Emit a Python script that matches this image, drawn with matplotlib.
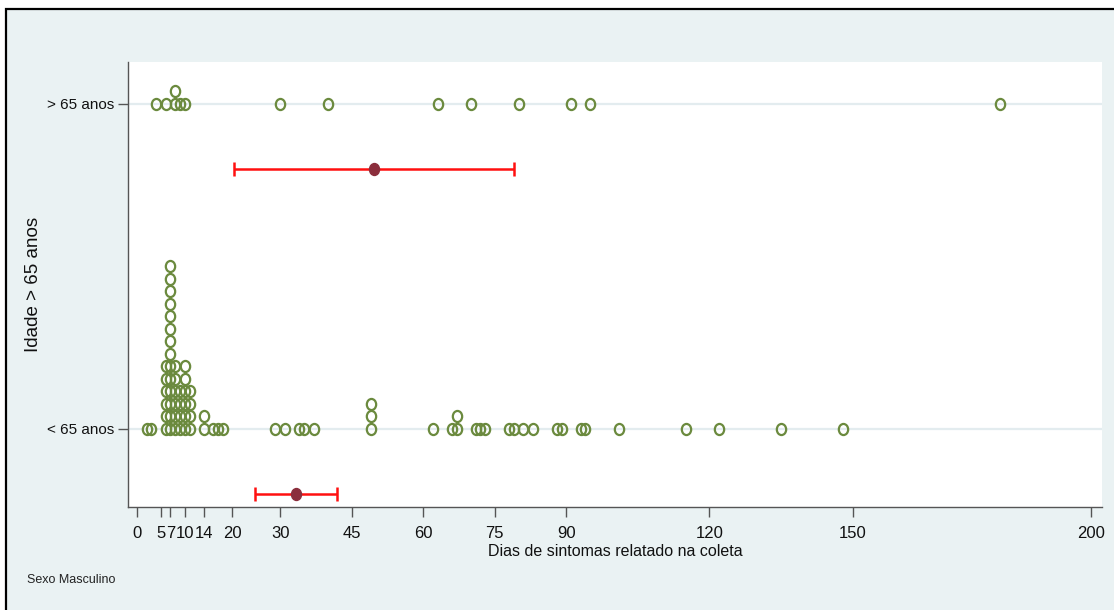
import numpy as np
import matplotlib
matplotlib.use("Agg")
import matplotlib.pyplot as plt
from matplotlib.path import Path
from matplotlib.transforms import Affine2D
from matplotlib.patches import Rectangle
from collections import Counter

# Reported symptom days at sample collection, male patients, by age group
group_labels = ["< 65 anos", "> 65 anos"]
dias_menor65 = [2, 3,
                6, 6, 6, 6, 6, 6,
                7, 7, 7, 7, 7, 7, 7, 7, 7, 7, 7, 7, 7, 7,
                8, 8, 8, 8, 8, 8,
                9, 9, 9, 9,
                10, 10, 10, 10, 10, 10,
                11, 11, 11, 11,
                14, 14, 16, 17, 18,
                29, 31, 34, 35, 37,
                49, 49, 49,
                62, 66, 67, 67, 71, 72, 73,
                78, 79, 81, 83, 88, 89, 93, 94,
                101, 115, 122, 135, 148]
dias_maior65 = [4, 6, 8, 8, 9, 10, 30, 40, 63, 70, 80, 91, 95, 181]

# Student t critical values (95%) for n-1 degrees of freedom
t_crit = {74: 1.993, 13: 2.160}

x_ticks = [0, 5, 7, 10, 14, 20, 30, 45, 60, 75, 90, 120, 150, 200]

FONT = ["Liberation Sans Narrow", "Liberation Sans", "DejaVu Sans"]
BG = "#eaf2f3"
GREEN = "#6b8a3e"
MEAN_COLOR = "#8b2e3c"
TXT = "#111111"

W, H = 1114, 610
fig = plt.figure(figsize=(W / 100, H / 100), dpi=100, facecolor="white")

# outer framed panel
fig.patches.append(Rectangle((5.5 / W, -0.1), 1.2, (H - 8.5) / H + 0.1,
                             transform=fig.transFigure, facecolor=BG,
                             edgecolor="black", linewidth=1.6, zorder=-10))

left, right, top, bottom = 128, 1102, 62, 507
ax = fig.add_axes([left / W, (H - bottom) / H, (right - left) / W, (bottom - top) / H])
ax.set_facecolor("white")

# slightly tall hollow "O" marker
oval = Path.unit_circle().transformed(Affine2D().scale(0.84, 1.0))

step = 0.0385
offset = 0.2
for ypos, vals in [(0, dias_menor65), (1, dias_maior65)]:
    ax.axhline(ypos, color="#e3ecef", lw=1.6, zorder=1)
    seen = Counter()
    xs, ys = [], []
    for v in vals:
        xs.append(v)
        ys.append(ypos + seen[v] * step)
        seen[v] += 1
    ax.plot(xs, ys, linestyle="none", marker=oval, markersize=8.0,
            markerfacecolor="none", markeredgecolor=GREEN,
            markeredgewidth=1.6, zorder=3)

    arr = np.asarray(vals, dtype=float)
    n = arr.size
    mean = arr.mean()
    half = t_crit[n - 1] * arr.std(ddof=1) / np.sqrt(n)
    ax.errorbar([mean], [ypos - offset], xerr=[[half], [half]], fmt="none",
                ecolor="#ff1010", elinewidth=1.8, capsize=5, capthick=1.8, zorder=4)
    ax.plot([mean], [ypos - offset], linestyle="none", marker=oval, markersize=8.6,
            markerfacecolor=MEAN_COLOR, markeredgecolor=MEAN_COLOR, zorder=5)

ax.set_xlim(-1.9, 202.3)
ax.set_ylim(-0.24, 1.129)

ax.set_xticks(x_ticks)
ax.set_xticklabels([str(t) for t in x_ticks], fontfamily=FONT, fontsize=12)
ax.set_yticks([0, 1])
ax.set_yticklabels(group_labels, fontfamily=FONT, fontsize=11)

for s in ["top", "right"]:
    ax.spines[s].set_visible(False)
for s in ["left", "bottom"]:
    ax.spines[s].set_color("#555555")
    ax.spines[s].set_linewidth(1.0)
ax.tick_params(axis="both", length=7, width=1.0, color="#555555", labelcolor=TXT)
ax.tick_params(axis="x", pad=6.5)
ax.tick_params(axis="y", pad=3)

ax.set_xlabel("Dias de sintomas relatado na coleta", fontfamily=FONT, fontsize=11.5,
              color=TXT)
ax.xaxis.set_label_coords(0.5, -(544 - bottom) / (bottom - top))
ax.set_ylabel("Idade > 65 anos", fontfamily=FONT, fontsize=13.5, color=TXT)
ax.yaxis.set_label_coords(-(128 - 42) / (right - left), 0.5)

fig.text(27 / W, 1 - 580 / H, "Sexo Masculino", fontfamily=FONT, fontsize=9,
         color="#222222", va="center", ha="left")

fig.savefig("out.png", dpi=100, facecolor=fig.get_facecolor())
